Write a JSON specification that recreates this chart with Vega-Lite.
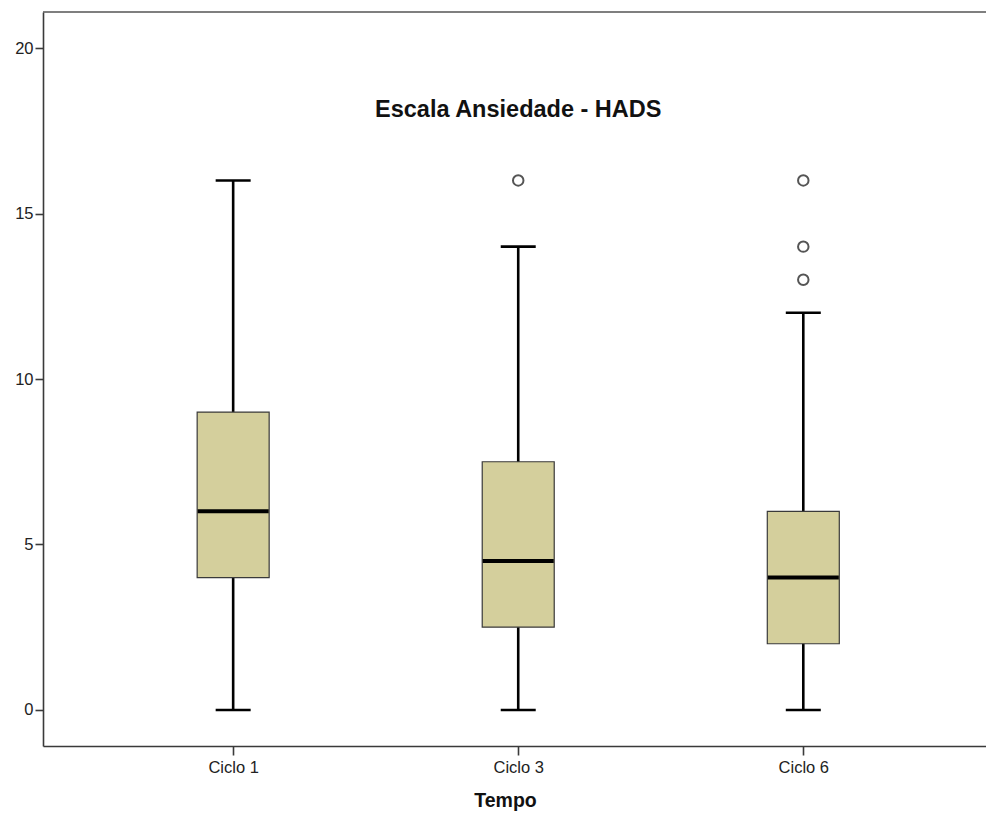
{
  "$schema": "https://vega.github.io/schema/vega-lite/v6.json",
  "width": 943,
  "height": 734,
  "autosize": "none",
  "padding": {"left": 43, "top": 12, "right": 0, "bottom": 68},
  "background": "white",
  "config": {
    "view": {"stroke": null},
    "font": "Liberation Sans",
    "axis": {
      "domainColor": "#3a3a3a",
      "domainWidth": 1.6,
      "tickColor": "#3a3a3a",
      "tickWidth": 1.6,
      "labelColor": "#222",
      "labelFont": "Liberation Sans",
      "labelFontSize": 16.5,
      "grid": false
    }
  },
  "datasets": {
    "boxes": [
      {"tempo": "Ciclo 1", "min": 0, "q1": 4, "median": 6, "q3": 9, "max": 16},
      {"tempo": "Ciclo 3", "min": 0, "q1": 2.5, "median": 4.5, "q3": 7.5, "max": 14},
      {"tempo": "Ciclo 6", "min": 0, "q1": 2, "median": 4, "q3": 6, "max": 12}
    ],
    "outliers": [
      {"tempo": "Ciclo 3", "value": 16},
      {"tempo": "Ciclo 6", "value": 16},
      {"tempo": "Ciclo 6", "value": 14},
      {"tempo": "Ciclo 6", "value": 13}
    ],
    "titulo": [
      {"tempo": "Ciclo 3", "value": 17.92, "label": "Escala Ansiedade - HADS"}
    ],
    "borda": [
      {"top": 21.09}
    ]
  },
  "layer": [
    {
      "data": {"name": "boxes"},
      "mark": {"type": "rule", "color": "black", "strokeWidth": 2.6},
      "encoding": {
        "x": {
          "field": "tempo",
          "type": "nominal",
          "sort": ["Ciclo 1", "Ciclo 3", "Ciclo 6"],
          "scale": {"type": "point", "padding": 0.654, "align": 0.51},
          "axis": {
            "title": "Tempo",
            "titleFont": "Liberation Sans",
            "titleFontSize": 19.5,
            "titleFontWeight": "bold",
            "titleColor": "#111",
            "titlePadding": 16,
            "titleX": 462,
            "labelAngle": 0,
            "tickSize": 9,
            "labelPadding": 4
          }
        },
        "y": {
          "field": "min",
          "type": "quantitative",
          "scale": {"domain": [-1.09, 21.09], "nice": false, "zero": false},
          "axis": {"title": null, "values": [0, 5, 10, 15, 20], "tickSize": 8, "labelPadding": 2}
        },
        "y2": {"field": "max"}
      }
    },
    {
      "data": {"name": "boxes"},
      "mark": {"type": "tick", "color": "black", "size": 35, "thickness": 2.6, "opacity": 1},
      "encoding": {
        "x": {"field": "tempo", "type": "nominal", "sort": ["Ciclo 1", "Ciclo 3", "Ciclo 6"]},
        "y": {"field": "max", "type": "quantitative"}
      }
    },
    {
      "data": {"name": "boxes"},
      "mark": {"type": "tick", "color": "black", "size": 35, "thickness": 2.6, "opacity": 1},
      "encoding": {
        "x": {"field": "tempo", "type": "nominal", "sort": ["Ciclo 1", "Ciclo 3", "Ciclo 6"]},
        "y": {"field": "min", "type": "quantitative"}
      }
    },
    {
      "data": {"name": "boxes"},
      "mark": {"type": "bar", "size": 72, "fill": "#d4cf9c", "stroke": "#3a3a3a", "strokeWidth": 1.2, "opacity": 1},
      "encoding": {
        "x": {"field": "tempo", "type": "nominal", "sort": ["Ciclo 1", "Ciclo 3", "Ciclo 6"]},
        "y": {"field": "q1", "type": "quantitative"},
        "y2": {"field": "q3"}
      }
    },
    {
      "data": {"name": "boxes"},
      "mark": {"type": "tick", "color": "black", "size": 71, "thickness": 4, "opacity": 1},
      "encoding": {
        "x": {"field": "tempo", "type": "nominal", "sort": ["Ciclo 1", "Ciclo 3", "Ciclo 6"]},
        "y": {"field": "median", "type": "quantitative"}
      }
    },
    {
      "data": {"name": "outliers"},
      "mark": {"type": "point", "shape": "circle", "filled": false, "size": 110, "stroke": "#555", "strokeWidth": 2, "opacity": 1},
      "encoding": {
        "x": {"field": "tempo", "type": "nominal", "sort": ["Ciclo 1", "Ciclo 3", "Ciclo 6"]},
        "y": {"field": "value", "type": "quantitative"}
      }
    },
    {
      "data": {"name": "titulo"},
      "mark": {"type": "text", "font": "Liberation Sans", "fontSize": 23.5, "fontWeight": "bold", "color": "#111", "baseline": "alphabetic", "align": "center"},
      "encoding": {
        "x": {"field": "tempo", "type": "nominal", "sort": ["Ciclo 1", "Ciclo 3", "Ciclo 6"]},
        "y": {"field": "value", "type": "quantitative"},
        "text": {"field": "label"}
      }
    },
    {
      "data": {"name": "borda"},
      "mark": {"type": "rule", "color": "#555", "strokeWidth": 1.6},
      "encoding": {"y": {"field": "top", "type": "quantitative"}}
    }
  ]
}
